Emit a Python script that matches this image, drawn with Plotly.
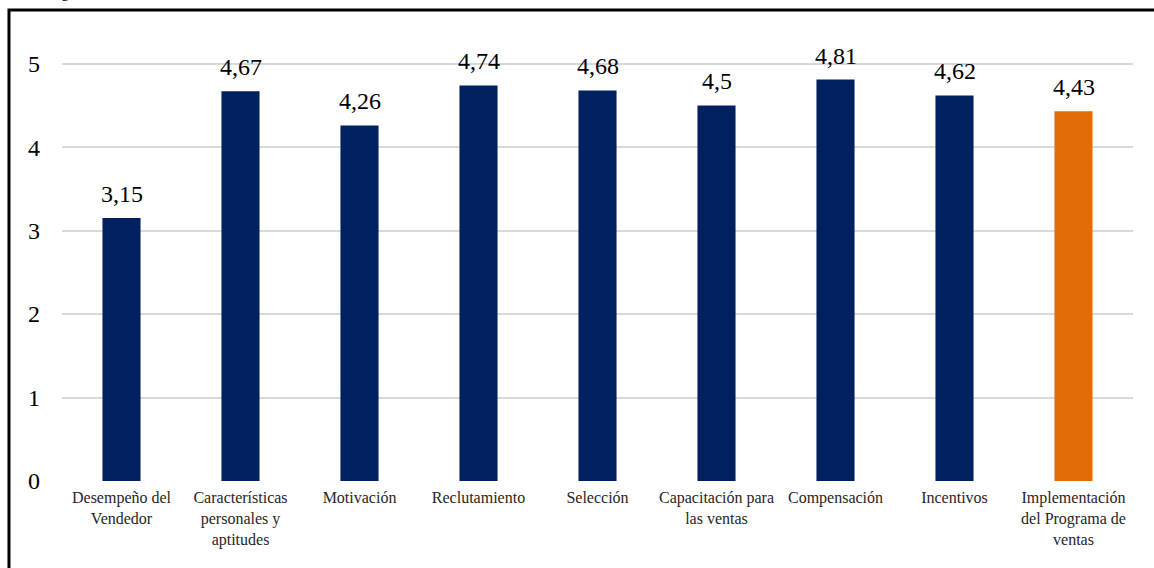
import plotly.graph_objects as go

categories = ["Desempeño del<br>Vendedor", "Características<br>personales y<br>aptitudes", "Motivación",
              "Reclutamiento", "Selección", "Capacitación para<br>las ventas", "Compensación",
              "Incentivos", "Implementación<br>del Programa de<br>ventas"]
values = [3.15, 4.67, 4.26, 4.74, 4.68, 4.5, 4.81, 4.62, 4.43]
labels = ["3,15", "4,67", "4,26", "4,74", "4,68", "4,5", "4,81", "4,62", "4,43"]
colors = ["#002060"] * 8 + ["#E36C09"]
ytick_vals = [0, 1, 2, 3, 4, 5]
caption = "Figura"

SERIF = "'Liberation Serif', 'Times New Roman', Times, serif"

xs = list(range(len(categories)))
fig = go.Figure()
fig.add_trace(go.Bar(x=xs, y=values, marker=dict(color=colors, line=dict(width=0)), width=0.32))

for x, v, t in zip(xs, values, labels):
    fig.add_annotation(x=x, y=v, text=t, showarrow=False, yanchor="bottom", yshift=9,
                       font=dict(family=SERIF, size=24, color="#000000"))

# caption above the frame, cut off by the top of the page
fig.add_annotation(xref="paper", yref="paper", x=-0.0149, y=1.041, text=caption, showarrow=False,
                   xanchor="left", yanchor="bottom", font=dict(family=SERIF, size=16, color="#000000"))

fig.add_shape(type="rect", xref="paper", yref="paper", x0=-0.0495, x1=1.06, y0=-0.4, y1=1.026,
              line=dict(color="#000000", width=3), fillcolor="rgba(0,0,0,0)", layer="above")

fig.update_layout(
    width=1154, height=568,
    margin=dict(l=62, r=21, t=22, b=87),
    paper_bgcolor="white", plot_bgcolor="white",
    showlegend=False,
    font=dict(family=SERIF, color="#000000"),
    xaxis=dict(tickmode="array", tickvals=xs, ticktext=categories, range=[-0.5, 8.5],
               tickfont=dict(family=SERIF, size=16, color="#262626"), showgrid=False, zeroline=False,
               showline=False, ticks="", ticklabelstandoff=5),
    yaxis=dict(range=[0, 5.5], tickvals=ytick_vals, tickfont=dict(family=SERIF, size=24, color="#000000"),
               showgrid=True, gridcolor="#D9D9D9", gridwidth=1.5, zeroline=False,
               showline=False, ticks="", ticklabelstandoff=21),
)

fig.write_html("out.html")
